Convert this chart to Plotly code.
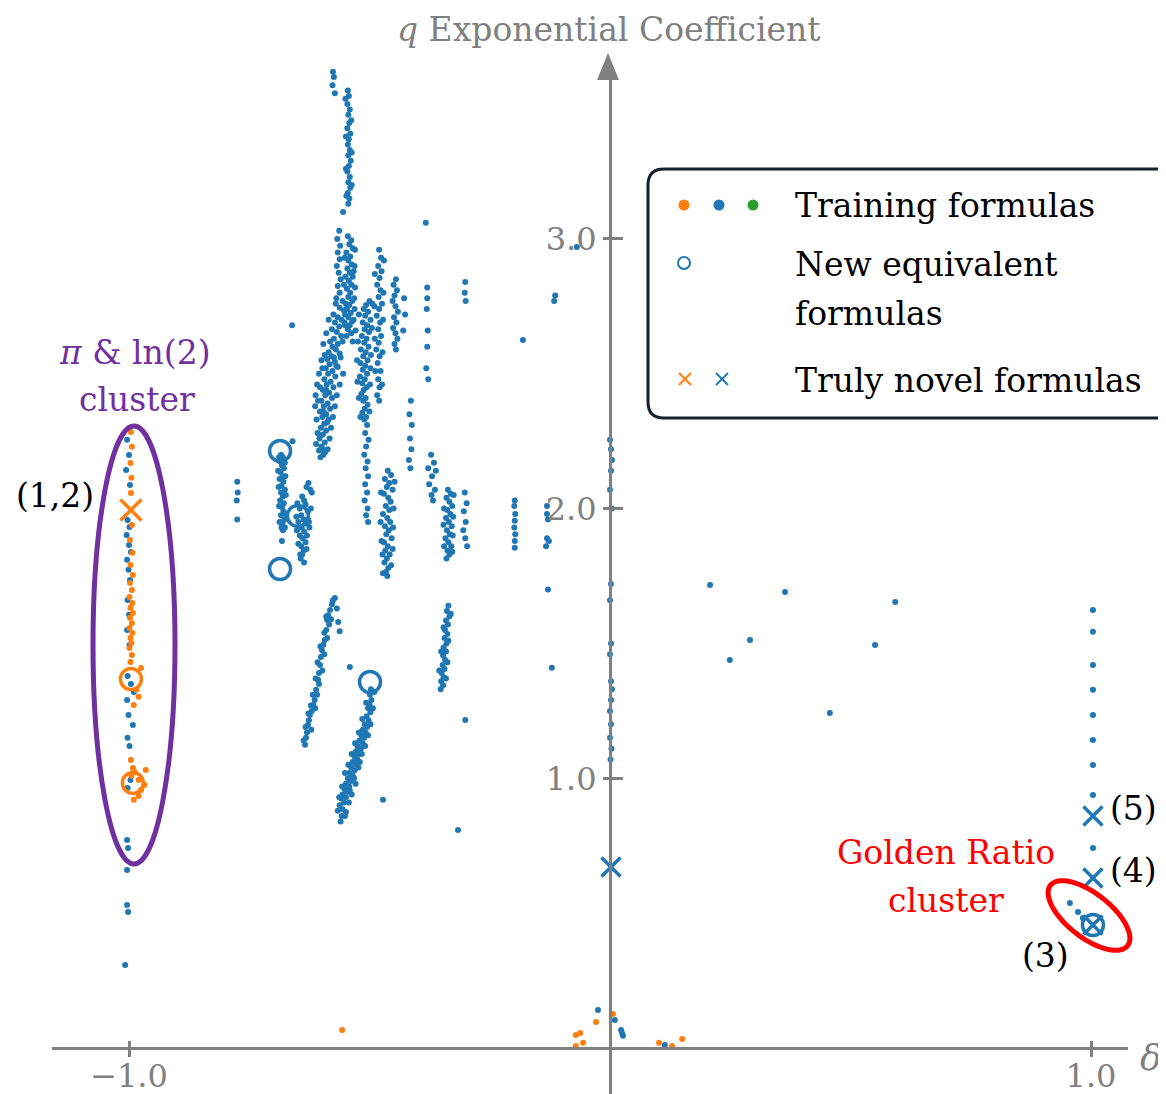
import math
import plotly.graph_objects as go

# ---------------- data ----------------
blue_train = [
    # pi & ln(2) cluster (delta = -1)
    (-1.004, 2.255), (-1.000, 2.199), (-1.006, 2.143), (-0.998, 2.088), (-1.003, 1.958), (-0.999, 1.932),
    (-1.005, 1.902), (-1.000, 1.865), (-0.996, 1.839), (-1.004, 1.810), (-1.001, 1.773), (-0.998, 1.735),
    (-1.003, 1.661), (-1.000, 1.606), (-1.004, 1.550), (-0.999, 1.494), (-1.003, 1.379), (-0.996, 1.350),
    (-0.990, 1.320), (-1.004, 1.290), (-1.001, 1.235), (-0.992, 1.198), (-1.003, 1.150), (-0.999, 1.120),
    (-0.997, 0.994), (-1.003, 0.964), (-1.004, 0.771), (-1.002, 0.742), (-1.004, 0.660), (-1.004, 0.530),
    (-1.002, 0.504), (-1.008, 0.308),
    # column near delta = -0.78
    (-0.775, 2.10), (-0.774, 2.06), (-0.776, 2.03), (-0.775, 1.96),
    # column near delta = -0.68
    (-0.684, 2.20), (-0.680, 2.19), (-0.686, 2.175), (-0.682, 2.16), (-0.678, 2.15), (-0.685, 2.135),
    (-0.681, 2.12), (-0.687, 2.11), (-0.679, 2.10), (-0.683, 2.085), (-0.676, 2.07), (-0.684, 2.06),
    (-0.680, 2.045), (-0.686, 2.03), (-0.678, 2.02), (-0.682, 2.005), (-0.679, 1.99), (-0.684, 1.975),
    (-0.677, 1.96), (-0.681, 1.945), (-0.683, 1.93), (-0.680, 1.92), (-0.682, 1.88),
    (-0.688, 2.19), (-0.676, 2.17), (-0.690, 2.14), (-0.675, 2.12), (-0.689, 2.08), (-0.674, 2.05),
    (-0.688, 2.01), (-0.675, 1.98), (-0.687, 1.95), (-0.676, 1.93),
    # column near delta = -0.64
    (-0.627, 2.095), (-0.623, 2.07), (-0.631, 2.08), (-0.640, 2.045), (-0.636, 2.03), (-0.645, 2.00),
    (-0.633, 2.015), (-0.628, 1.99), (-0.642, 1.975), (-0.637, 1.96), (-0.648, 1.95), (-0.632, 1.945),
    (-0.641, 1.93), (-0.636, 1.915), (-0.645, 1.90), (-0.639, 1.89), (-0.633, 1.875), (-0.642, 1.86),
    (-0.637, 1.845), (-0.640, 1.83), (-0.643, 1.815), (-0.628, 1.96), (-0.625, 1.93),
    (-0.620, 2.06), (-0.650, 2.02), (-0.622, 2.00), (-0.652, 1.97), (-0.626, 1.95), (-0.651, 1.92),
    (-0.630, 1.90), (-0.648, 1.87), (-0.631, 1.85), (-0.644, 1.83), (-0.636, 1.80),
    (-0.661, 2.68), (-0.660, 2.25),
    # top column
    (-0.576, 3.62), (-0.574, 3.60), (-0.577, 3.57), (-0.572, 3.54),
    (-0.545, 3.55), (-0.543, 3.53), (-0.546, 3.50), (-0.541, 3.48), (-0.544, 3.46), (-0.542, 3.43),
    (-0.546, 3.41), (-0.540, 3.39), (-0.543, 3.37), (-0.545, 3.35), (-0.541, 3.33), (-0.544, 3.31),
    (-0.539, 3.29), (-0.543, 3.27), (-0.546, 3.25), (-0.541, 3.23), (-0.544, 3.21), (-0.540, 3.19),
    (-0.545, 3.17), (-0.542, 3.15), (-0.544, 3.13), (-0.555, 3.10),
    (-0.550, 3.52), (-0.538, 3.44), (-0.549, 3.38), (-0.537, 3.32), (-0.549, 3.26), (-0.537, 3.20),
    (-0.548, 3.16),
    # main cluster strands
    (-0.563, 3.03), (-0.567, 3.00), (-0.561, 2.975), (-0.566, 2.95), (-0.562, 2.925), (-0.568, 2.90),
    (-0.564, 2.875), (-0.560, 2.85), (-0.566, 2.825), (-0.562, 2.80), (-0.569, 2.78),
    (-0.545, 3.01), (-0.538, 2.995), (-0.542, 2.98), (-0.535, 2.965), (-0.548, 2.95), (-0.540, 2.935),
    (-0.544, 2.92), (-0.537, 2.905), (-0.546, 2.89), (-0.541, 2.875), (-0.535, 2.86), (-0.543, 2.845),
    (-0.538, 2.83), (-0.547, 2.815), (-0.540, 2.80), (-0.544, 2.785), (-0.536, 2.77), (-0.542, 2.755),
    (-0.547, 2.74), (-0.539, 2.725), (-0.544, 2.71), (-0.536, 2.695), (-0.541, 2.68), (-0.545, 2.665),
    (-0.538, 2.65), (-0.533, 2.88), (-0.550, 2.86), (-0.532, 2.78), (-0.551, 2.72),
    (-0.530, 2.96), (-0.552, 2.93), (-0.531, 2.90), (-0.553, 2.83), (-0.530, 2.82), (-0.549, 2.76),
    (-0.531, 2.74), (-0.552, 2.69), (-0.533, 2.70), (-0.529, 2.66), (-0.548, 2.64), (-0.535, 2.62),
    (-0.556, 2.77), (-0.570, 2.76), (-0.562, 2.745), (-0.553, 2.735), (-0.575, 2.72), (-0.566, 2.71),
    (-0.558, 2.70), (-0.572, 2.69), (-0.563, 2.675), (-0.578, 2.665), (-0.568, 2.655), (-0.559, 2.64),
    (-0.574, 2.63), (-0.582, 2.62), (-0.566, 2.61), (-0.577, 2.60), (-0.570, 2.59), (-0.585, 2.58),
    (-0.562, 2.575), (-0.579, 2.565), (-0.588, 2.555), (-0.572, 2.545), (-0.583, 2.535), (-0.566, 2.525),
    (-0.591, 2.52), (-0.577, 2.51), (-0.586, 2.50), (-0.571, 2.49), (-0.594, 2.48), (-0.581, 2.47),
    (-0.589, 2.46), (-0.575, 2.45), (-0.597, 2.44), (-0.584, 2.43), (-0.592, 2.42), (-0.578, 2.41),
    (-0.600, 2.40), (-0.587, 2.39), (-0.595, 2.38), (-0.582, 2.37), (-0.603, 2.36), (-0.590, 2.35),
    (-0.598, 2.34), (-0.585, 2.33), (-0.594, 2.315), (-0.601, 2.30), (-0.590, 2.29), (-0.597, 2.275),
    (-0.604, 2.26), (-0.593, 2.245), (-0.600, 2.23), (-0.605, 2.215), (-0.596, 2.20), (-0.602, 2.19),
    (-0.548, 2.74), (-0.585, 2.70), (-0.551, 2.68), (-0.590, 2.65), (-0.556, 2.62), (-0.596, 2.61),
    (-0.560, 2.56), (-0.600, 2.55), (-0.555, 2.50), (-0.605, 2.50), (-0.562, 2.46), (-0.609, 2.46),
    (-0.568, 2.42), (-0.612, 2.42), (-0.572, 2.38), (-0.613, 2.38), (-0.576, 2.34), (-0.610, 2.33),
    (-0.580, 2.30), (-0.608, 2.28), (-0.583, 2.26), (-0.587, 2.22), (-0.611, 2.24), (-0.592, 2.21),
    (-0.574, 2.56), (-0.569, 2.53), (-0.593, 2.57), (-0.598, 2.52), (-0.603, 2.45), (-0.590, 2.44),
    (-0.607, 2.40), (-0.596, 2.36), (-0.588, 2.32), (-0.602, 2.27), (-0.598, 2.22),
    (-0.500, 2.77), (-0.507, 2.755), (-0.512, 2.74), (-0.503, 2.73), (-0.509, 2.715), (-0.498, 2.70),
    (-0.514, 2.69), (-0.505, 2.68), (-0.510, 2.665), (-0.501, 2.655), (-0.516, 2.64), (-0.506, 2.63),
    (-0.511, 2.615), (-0.502, 2.60), (-0.518, 2.59), (-0.508, 2.58), (-0.513, 2.565), (-0.504, 2.55),
    (-0.519, 2.54), (-0.509, 2.53), (-0.514, 2.515), (-0.505, 2.50), (-0.520, 2.49), (-0.510, 2.48),
    (-0.515, 2.465), (-0.506, 2.45), (-0.512, 2.44), (-0.517, 2.425), (-0.508, 2.41), (-0.513, 2.40),
    (-0.504, 2.385), (-0.510, 2.37), (-0.515, 2.355), (-0.507, 2.34), (-0.511, 2.33),
    (-0.494, 2.76), (-0.522, 2.72), (-0.495, 2.67), (-0.524, 2.62), (-0.497, 2.57), (-0.526, 2.55),
    (-0.498, 2.52), (-0.525, 2.47), (-0.499, 2.46), (-0.522, 2.41), (-0.500, 2.36), (-0.519, 2.34),
    (-0.505, 2.31), (-0.509, 2.28), (-0.502, 2.255), (-0.507, 2.23), (-0.511, 2.20), (-0.504, 2.175),
    (-0.508, 2.15), (-0.503, 2.12), (-0.509, 2.09), (-0.505, 2.06), (-0.510, 2.03), (-0.504, 2.00),
    (-0.507, 1.975), (-0.503, 1.95),
    (-0.480, 2.96), (-0.476, 2.93), (-0.482, 2.90), (-0.475, 2.88), (-0.479, 2.855), (-0.484, 2.83),
    (-0.477, 2.81), (-0.481, 2.785), (-0.474, 2.76), (-0.480, 2.74), (-0.485, 2.715), (-0.478, 2.69),
    (-0.482, 2.665), (-0.476, 2.64), (-0.481, 2.615), (-0.486, 2.59), (-0.479, 2.565), (-0.483, 2.54),
    (-0.477, 2.51), (-0.482, 2.48), (-0.479, 2.45), (-0.484, 2.42), (-0.480, 2.40),
    (-0.470, 2.92), (-0.489, 2.87), (-0.471, 2.80), (-0.490, 2.75), (-0.472, 2.70), (-0.489, 2.63),
    (-0.473, 2.58), (-0.488, 2.51), (-0.474, 2.46),
    (-0.445, 2.85), (-0.450, 2.83), (-0.443, 2.81), (-0.448, 2.79), (-0.452, 2.77), (-0.446, 2.75),
    (-0.441, 2.73), (-0.449, 2.71), (-0.444, 2.69), (-0.451, 2.67), (-0.446, 2.65), (-0.442, 2.63),
    (-0.448, 2.61), (-0.445, 2.59), (-0.428, 2.78), (-0.426, 2.72), (-0.430, 2.66),
    (-0.462, 2.14), (-0.455, 2.125), (-0.468, 2.11), (-0.459, 2.095), (-0.464, 2.08), (-0.452, 2.07),
    (-0.470, 2.055), (-0.461, 2.04), (-0.456, 2.025), (-0.466, 2.01), (-0.459, 1.995), (-0.472, 1.98),
    (-0.463, 1.965), (-0.457, 1.95), (-0.468, 1.935), (-0.460, 1.92), (-0.465, 1.905), (-0.454, 1.89),
    (-0.470, 1.875), (-0.462, 1.86), (-0.467, 1.845), (-0.458, 1.83), (-0.464, 1.815), (-0.469, 1.80),
    (-0.461, 1.78), (-0.466, 1.765), (-0.463, 1.75),
    (-0.448, 2.10), (-0.476, 2.06), (-0.450, 2.00), (-0.477, 1.95), (-0.451, 1.93), (-0.475, 1.88),
    (-0.452, 1.85), (-0.473, 1.83), (-0.455, 1.79), (-0.472, 1.76),
    (-0.414, 2.40), (-0.417, 2.35), (-0.412, 2.31), (-0.416, 2.26), (-0.413, 2.22), (-0.418, 2.18),
    (-0.415, 2.15),
    (-0.383, 3.06), (-0.380, 2.82), (-0.380, 2.78), (-0.381, 2.74), (-0.379, 2.66), (-0.380, 2.60),
    (-0.382, 2.52), (-0.378, 2.48),
    (-0.372, 2.20), (-0.366, 2.17), (-0.378, 2.15), (-0.362, 2.14), (-0.370, 2.12), (-0.376, 2.09),
    (-0.364, 2.07), (-0.371, 2.05), (-0.368, 2.03),
    (-0.337, 2.07), (-0.331, 2.055), (-0.340, 2.04), (-0.334, 2.025), (-0.328, 2.01), (-0.338, 1.995),
    (-0.332, 1.98), (-0.341, 1.965), (-0.335, 1.95), (-0.329, 1.935), (-0.339, 1.92), (-0.333, 1.905),
    (-0.342, 1.89), (-0.336, 1.875), (-0.330, 1.86), (-0.338, 1.845), (-0.334, 1.83), (-0.340, 1.815),
    (-0.325, 2.05), (-0.345, 2.00), (-0.326, 1.97), (-0.346, 1.94), (-0.327, 1.90), (-0.345, 1.86),
    (-0.328, 1.84),
    (-0.302, 2.06), (-0.298, 2.02), (-0.304, 1.99), (-0.300, 1.95), (-0.305, 1.92), (-0.301, 1.89),
    (-0.297, 1.86),
    (-0.301, 2.84), (-0.302, 2.80), (-0.300, 2.77),
    (-0.198, 2.03), (-0.199, 2.01), (-0.197, 1.98), (-0.198, 1.955), (-0.199, 1.93), (-0.197, 1.905),
    (-0.198, 1.88), (-0.198, 1.855),
    # lower strands
    (-0.336, 1.64), (-0.339, 1.62), (-0.334, 1.60), (-0.341, 1.585), (-0.337, 1.57), (-0.343, 1.55),
    (-0.338, 1.535), (-0.344, 1.52), (-0.340, 1.50), (-0.346, 1.485), (-0.341, 1.47), (-0.347, 1.455),
    (-0.343, 1.44), (-0.348, 1.42), (-0.344, 1.405), (-0.350, 1.39), (-0.346, 1.375), (-0.351, 1.36),
    (-0.347, 1.345), (-0.352, 1.33),
    (-0.331, 1.61), (-0.346, 1.56), (-0.336, 1.51), (-0.351, 1.47), (-0.338, 1.43), (-0.355, 1.40),
    (-0.341, 1.37),
    (-0.572, 1.669), (-0.578, 1.645), (-0.582, 1.624), (-0.586, 1.605), (-0.588, 1.587), (-0.584, 1.57),
    (-0.590, 1.55), (-0.593, 1.513), (-0.596, 1.495), (-0.599, 1.476), (-0.601, 1.45), (-0.603, 1.42),
    (-0.598, 1.40), (-0.605, 1.39), (-0.607, 1.365), (-0.611, 1.328), (-0.609, 1.31), (-0.614, 1.29),
    (-0.617, 1.272), (-0.620, 1.25), (-0.624, 1.235), (-0.626, 1.215), (-0.628, 1.198), (-0.630, 1.17),
    (-0.632, 1.15), (-0.634, 1.124), (-0.565, 1.58), (-0.562, 1.545),
    (-0.576, 1.66), (-0.568, 1.63), (-0.590, 1.60), (-0.580, 1.59), (-0.594, 1.54), (-0.588, 1.52),
    (-0.602, 1.49), (-0.594, 1.46), (-0.608, 1.43), (-0.612, 1.37), (-0.605, 1.35), (-0.618, 1.31),
    (-0.622, 1.27), (-0.613, 1.26), (-0.627, 1.24), (-0.633, 1.19), (-0.621, 1.18), (-0.637, 1.14),
    (-0.497, 1.33), (-0.499, 1.31), (-0.496, 1.29), (-0.500, 1.275), (-0.503, 1.26), (-0.498, 1.245),
    (-0.506, 1.23), (-0.502, 1.215), (-0.510, 1.20), (-0.505, 1.19), (-0.514, 1.18), (-0.508, 1.17),
    (-0.517, 1.16), (-0.511, 1.15), (-0.521, 1.14), (-0.514, 1.13), (-0.525, 1.12), (-0.518, 1.11),
    (-0.528, 1.10), (-0.522, 1.09), (-0.531, 1.08), (-0.525, 1.07), (-0.535, 1.06), (-0.528, 1.05),
    (-0.538, 1.04), (-0.531, 1.03), (-0.542, 1.02), (-0.535, 1.01), (-0.545, 1.00), (-0.539, 0.99),
    (-0.549, 0.98), (-0.542, 0.97), (-0.552, 0.96), (-0.546, 0.95), (-0.556, 0.94), (-0.549, 0.93),
    (-0.559, 0.925), (-0.553, 0.91), (-0.562, 0.90), (-0.556, 0.885), (-0.549, 0.875), (-0.558, 0.86),
    (-0.541, 0.955), (-0.532, 1.00), (-0.520, 1.06),
    (-0.490, 1.32), (-0.507, 1.28), (-0.493, 1.26), (-0.515, 1.22), (-0.498, 1.20), (-0.522, 1.17),
    (-0.503, 1.16), (-0.530, 1.13), (-0.509, 1.12), (-0.537, 1.09), (-0.516, 1.09), (-0.544, 1.05),
    (-0.523, 1.04), (-0.551, 1.02), (-0.529, 0.98), (-0.557, 0.97), (-0.537, 0.94), (-0.563, 0.93),
    (-0.543, 0.91), (-0.566, 0.88), (-0.551, 0.86), (-0.560, 0.84),
    # isolated points
    (-0.472, 0.92), (-0.541, 1.413), (-0.301, 1.216), (-0.316, 0.808), (-0.181, 2.625),
    (-0.114, 2.79), (-0.116, 2.77), (-0.069, 2.97),
    (-0.131, 2.01), (-0.131, 1.98), (-0.129, 1.96), (-0.131, 1.89), (-0.127, 1.88), (-0.133, 1.86),
    (-0.129, 1.70), (-0.121, 1.41),
    # along delta = 0
    (0.000, 2.255), (0.002, 2.22), (0.004, 2.18), (0.002, 2.14), (0.000, 2.07), (0.004, 2.00),
    (0.002, 1.72), (0.000, 1.66), (0.002, 1.50), (0.000, 1.46), (0.002, 1.36), (0.004, 1.33),
    (0.002, 1.29), (0.000, 1.25), (0.002, 1.20), (0.000, 1.15), (0.003, 1.11), (0.001, 1.07),
    # right side
    (0.208, 1.717), (0.291, 1.513), (0.249, 1.439), (0.364, 1.691), (0.457, 1.242), (0.551, 1.494),
    (0.593, 1.654),
    # delta = 1 column and golden ratio cluster
    (1.004, 1.624), (1.004, 1.543), (1.004, 1.420), (1.004, 1.328), (1.004, 1.235), (1.004, 1.142),
    (1.004, 1.049), (1.004, 0.938), (1.004, 0.742),
    (0.956, 0.538), (0.973, 0.504), (0.983, 0.482),
    # near the origin
    (-0.025, 0.141), (0.010, 0.104), (0.023, 0.067), (0.025, 0.056), (0.027, 0.045), (0.114, 0.011),
]

orange_train = [
    (-0.996, 2.284), (-0.994, 2.229), (-0.997, 2.169), (-0.995, 2.114), (-0.996, 2.058),
    (-0.994, 1.939), (-0.998, 1.884), (-0.993, 1.836), (-0.997, 1.791), (-0.992, 1.754),
    (-0.998, 1.724), (-0.994, 1.698), (-0.999, 1.672), (-0.993, 1.650), (-0.997, 1.632),
    (-0.992, 1.613), (-0.998, 1.595), (-0.994, 1.576), (-0.999, 1.557), (-0.993, 1.539),
    (-0.997, 1.520), (-0.995, 1.502), (-0.999, 1.483), (-0.994, 1.457), (-0.997, 1.431),
    (-0.975, 1.409), (-0.985, 1.328), (-0.980, 1.302), (-0.990, 1.272),
    (-0.996, 1.068), (-0.992, 1.038), (-0.988, 1.023), (-0.995, 1.009), (-0.980, 0.994),
    (-0.975, 0.957), (-0.980, 0.934), (-0.990, 0.920), (-0.965, 1.031), (-0.968, 0.975),
    (-0.557, 0.067),
    (0.006, 0.126), (-0.029, 0.096), (-0.071, 0.048), (-0.062, 0.056), (-0.056, 0.019),
    (-0.071, 0.007), (0.102, 0.019), (0.129, 0.007), (0.150, 0.033),
]

new_equiv_blue_x = [-0.686, -0.649, -0.686, -0.499, 1.004]
new_equiv_blue_y = [2.214, 1.973, 1.776, 1.357, 0.456]
new_equiv_orange_x = [-0.996, -0.992]
new_equiv_orange_y = [1.368, 0.983]

novel_blue_x = [0.002, 1.004, 1.004, 1.004]
novel_blue_y = [0.671, 0.860, 0.630, 0.456]
novel_orange_x = [-0.996]
novel_orange_y = [1.995]

x_ticks = [-1.0, 1.0]
x_tick_text = ["\u22121.0", "1.0"]
y_ticks = [1.0, 2.0, 3.0]
y_tick_text = ["1.0", "2.0", "3.0"]

legend_labels = ["Training formulas", "New equivalent", "formulas", "Truly novel formulas"]
y_title = "<i>q</i> Exponential Coefficient"
x_title = "<i>\u03b4</i>"

# ---------------- style ----------------
OFF = 8                      # the page body has an 8 px margin
W, H = 1166 - OFF, 1094 - OFF
BLUE, ORANGE, GREEN = "#1f77b4", "#ff7f0e", "#2ca02c"
GRAY = "#808080"
PURPLE = "#7030a0"
RED = "#ff0000"
FONT = "DejaVu Serif"
FS = 33


def px(x):
    return (x - OFF) / W


def py(y):
    return 1 - (y - OFF) / H


XR = [-1.1601, 1.0769]
YR = [-0.1706, 3.656]
XDOM = [px(52), px(1128)]
YDOM = [max(0.0, py(1094)), py(62)]
X_AXIS_POS = py(1048)
Y_AXIS_POS = px(610)

fig = go.Figure()

fig.add_trace(go.Scatter(
    x=[p[0] for p in blue_train], y=[p[1] for p in blue_train], mode="markers",
    marker=dict(color=BLUE, size=6), hoverinfo="skip", showlegend=False))
fig.add_trace(go.Scatter(
    x=[p[0] for p in orange_train], y=[p[1] for p in orange_train], mode="markers",
    marker=dict(color=ORANGE, size=6), hoverinfo="skip", showlegend=False))
fig.add_trace(go.Scatter(
    x=new_equiv_blue_x, y=new_equiv_blue_y, mode="markers",
    marker=dict(symbol="circle-open", color=BLUE, size=21, line=dict(width=3.5, color=BLUE)),
    showlegend=False))
fig.add_trace(go.Scatter(
    x=new_equiv_orange_x, y=new_equiv_orange_y, mode="markers",
    marker=dict(symbol="circle-open", color=ORANGE, size=21, line=dict(width=3.5, color=ORANGE)),
    showlegend=False))
fig.add_trace(go.Scatter(
    x=novel_blue_x, y=novel_blue_y, mode="markers",
    marker=dict(symbol="x-thin-open", color=BLUE, size=19, line=dict(width=3.5, color=BLUE)),
    showlegend=False))
fig.add_trace(go.Scatter(
    x=novel_orange_x, y=novel_orange_y, mode="markers",
    marker=dict(symbol="x-thin-open", color=ORANGE, size=21, line=dict(width=3.5, color=ORANGE)),
    showlegend=False))
# dummy trace so the overlay axes (inner half of the crossing ticks) are drawn
fig.add_trace(go.Scatter(x=[None], y=[None], xaxis="x2", yaxis="y2", showlegend=False,
                         hoverinfo="skip"))

tickfont = dict(family=FONT, size=32, color=GRAY)
fig.update_layout(
    width=W, height=H, margin=dict(l=0, r=0, t=0, b=0),
    paper_bgcolor="white", plot_bgcolor="white", showlegend=False,
    xaxis=dict(domain=XDOM, range=XR, anchor="free", position=X_AXIS_POS,
               showline=True, linecolor=GRAY, linewidth=3, ticks="outside", ticklen=7,
               tickwidth=2.5, tickcolor=GRAY, tickvals=x_ticks, ticktext=x_tick_text,
               ticklabelstandoff=-8,
               tickfont=tickfont, showgrid=False, zeroline=False, automargin=False),
    yaxis=dict(domain=YDOM, range=YR, anchor="free", position=Y_AXIS_POS,
               showline=True, linecolor=GRAY, linewidth=3, ticks="outside", ticklen=6,
               tickwidth=2.5, tickcolor=GRAY, tickvals=y_ticks, ticktext=y_tick_text,
               tickfont=tickfont, showgrid=False, zeroline=False, automargin=False),
    xaxis2=dict(overlaying="x", range=XR, anchor="free", position=X_AXIS_POS,
                showline=False, ticks="inside", ticklen=7, tickwidth=2.5, tickcolor=GRAY,
                tickvals=x_ticks, showticklabels=False, showgrid=False, zeroline=False),
    yaxis2=dict(overlaying="y", range=YR, anchor="free", position=Y_AXIS_POS,
                showline=False, ticks="inside", ticklen=12, tickwidth=2.5, tickcolor=GRAY,
                tickvals=y_ticks, showticklabels=False, showgrid=False, zeroline=False),
)

shapes = []
# y-axis arrow head
shapes.append(dict(type="path", xref="paper", yref="paper",
                   path=f"M {px(597)},{py(80)} L {px(619)},{py(80)} L {px(608)},{py(53)} Z",
                   fillcolor=GRAY, line=dict(width=0)))
# purple ellipse
shapes.append(dict(type="circle", xref="paper", yref="paper",
                   x0=px(93), x1=px(175), y0=py(864), y1=py(426),
                   line=dict(color=PURPLE, width=5)))
# red rotated ellipse
cx, cy, a, b, th = 1089, 915.5, 49.0, 22.0, math.radians(38)
pts = []
for k in range(73):
    t = 2 * math.pi * k / 72
    ex = cx + a * math.cos(t) * math.cos(th) - b * math.sin(t) * math.sin(th)
    ey = cy + a * math.cos(t) * math.sin(th) + b * math.sin(t) * math.cos(th)
    pts.append(f"{px(ex):.5f},{py(ey):.5f}")
shapes.append(dict(type="path", xref="paper", yref="paper",
                   path="M " + " L ".join(pts) + " Z", line=dict(color=RED, width=5)))
# legend box (rounded, open at the right edge)
L, T, R, B, r = 648, 169, 1185, 418, 16
shapes.append(dict(type="path", xref="paper", yref="paper",
                   path=(f"M {px(L + r)},{py(T)} L {px(R)},{py(T)} L {px(R)},{py(B)} "
                         f"L {px(L + r)},{py(B)} Q {px(L)},{py(B)} {px(L)},{py(B - r)} "
                         f"L {px(L)},{py(T + r)} Q {px(L)},{py(T)} {px(L + r)},{py(T)} Z"),
                   line=dict(color="#15202b", width=3), fillcolor="rgba(0,0,0,0)"))


def dot(cxp, cyp, color, filled=True, rad=5.5):
    return dict(type="circle", xref="paper", yref="paper", xsizemode="pixel", ysizemode="pixel",
                xanchor=px(cxp), yanchor=py(cyp), x0=-rad, x1=rad, y0=-rad, y1=rad,
                fillcolor=color if filled else "rgba(0,0,0,0)",
                line=dict(color=color, width=0 if filled else 2))


def cross(cxp, cyp, color, s=6):
    return [dict(type="line", xref="paper", yref="paper", xsizemode="pixel", ysizemode="pixel",
                 xanchor=px(cxp), yanchor=py(cyp), x0=-s, x1=s, y0=-s, y1=s,
                 line=dict(color=color, width=2)),
            dict(type="line", xref="paper", yref="paper", xsizemode="pixel", ysizemode="pixel",
                 xanchor=px(cxp), yanchor=py(cyp), x0=-s, x1=s, y0=s, y1=-s,
                 line=dict(color=color, width=2))]


shapes += [dot(684, 205, ORANGE), dot(719, 205, BLUE), dot(753, 205, GREEN)]
shapes += [dot(684, 263, BLUE, filled=False, rad=6)]
shapes += cross(685, 379, ORANGE) + cross(722, 379, BLUE)
fig.update_layout(shapes=shapes)

ann = []


def text(xp, ypix, s, color="black", size=FS, anchor="center"):
    ann.append(dict(x=px(xp), y=py(ypix), xref="paper", yref="paper", text=s, showarrow=False,
                    xanchor=anchor, yanchor="middle",
                    font=dict(family=FONT, size=size, color=color)))


text(609, 29, y_title, GRAY, 33)
text(1151, 1057, x_title, GRAY, 36)
text(793, 205, legend_labels[0], anchor="left")
text(793, 264, legend_labels[1], anchor="left")
text(793, 313, legend_labels[2], anchor="left")
text(793, 380, legend_labels[3], anchor="left")
text(135, 352, "<i>\u03c0</i> &amp; ln(2)", PURPLE)
text(137, 399, "cluster", PURPLE)
text(55, 496, "(1,2)")
text(946, 852, "Golden Ratio", RED)
text(946, 900, "cluster", RED)
text(1133, 808, "(5)")
text(1133, 870, "(4)")
text(1045, 955, "(3)")
fig.update_layout(annotations=ann)

fig.write_html("out.html")
